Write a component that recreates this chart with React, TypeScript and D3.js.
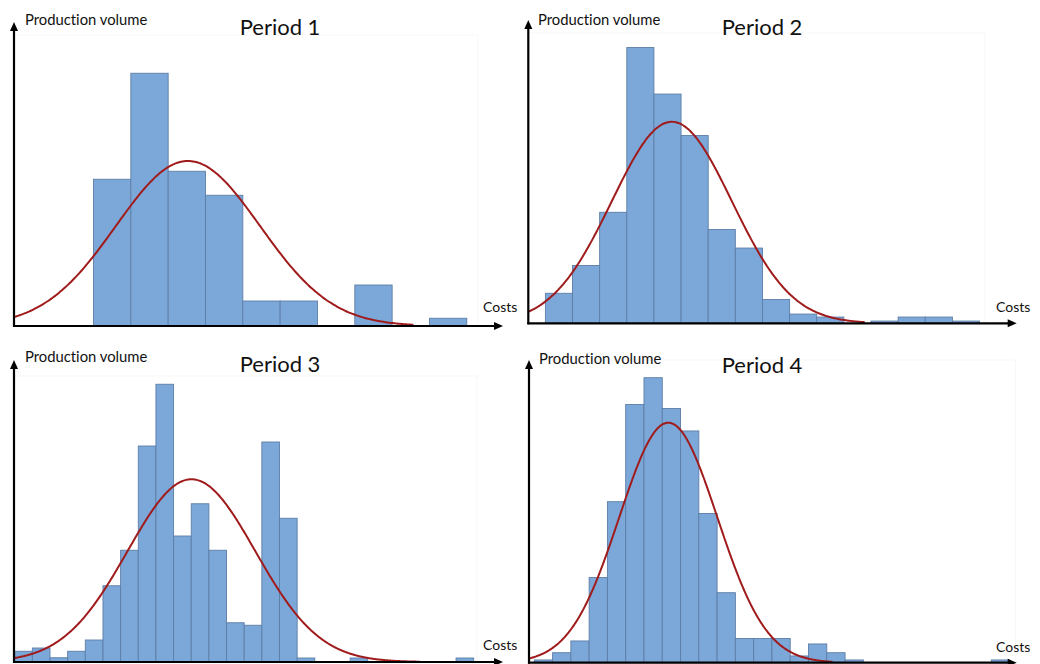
import React from "react";
import * as d3 from "d3";

// ---- data (costs measured in bin widths, volumes in counts) ----
const periodTitles = ["Period 1", "Period 2", "Period 3", "Period 4"];
const yLabel = "Production volume";
const xLabel = "Costs";

const p1Volumes = [58.7, 101.1, 61.9, 52.3, 10, 10, 0, 16.4, 0, 3.1];
const p2Volumes = [12, 23.1, 44.4, 110.3, 91.7, 75.1, 37.5, 30.1, 9.5, 3.7, 2.5, 0, 0.9, 2.5, 2.5, 0.9];
const p3Volumes = [4.3, 5.6, 1.7, 4.3, 8.8, 30.5, 44.7, 86.4, 111.1, 50.4, 63.3, 44.7, 15.7, 14.7, 88, 57.5, 1.6, 0, 0, 1.6, 0, 0, 0, 0, 0, 1.6];
const p4Volumes = [1.1, 4, 8.7, 34.1, 64.4, 103.3, 114, 101.7, 92.7, 59.7, 28, 9.7, 9.7, 9.7, 2.7, 7.5, 4, 1.1, 0, 0, 0, 0, 0, 0, 0, 1.1];

const firstBinStart = [2.13, 0.63, 0.04, 0.29];
const fitMean = [4.66, 5.29, 10.05, 7.62];
const fitSd = [1.93, 2.21, 3.62, 2.68];
const fitPeak = [66, 80.6, 73.1, 96];
const fitEnd = [10.7, 12.4, 23, 16.6];
const costMax = [13.1, 18.0, 27.7, 26.68];

const allVolumes = [p1Volumes, p2Volumes, p3Volumes, p4Volumes];

// ---- layout ----
const layout = [
  { x0: 14, x1: 503, y0: 326, yTop: 22, plotTop: 35, plotRight: 478, labelX: 25, labelY: 25, titleX: 280, titleY: 35, costsX: 483, costsY: 312 },
  { x0: 528.3, x1: 1016.7, y0: 323.3, yTop: 20, plotTop: 33, plotRight: 985, labelX: 538, labelY: 25, titleX: 762, titleY: 35, costsX: 996, costsY: 312 },
  { x0: 14, x1: 503, y0: 662, yTop: 360, plotTop: 376, plotRight: 477, labelX: 25, labelY: 362, titleX: 280, titleY: 372, costsX: 483, costsY: 650 },
  { x0: 529, x1: 1016.7, y0: 662.7, yTop: 360, plotTop: 360, plotRight: 1015.7, labelX: 539, labelY: 364, titleX: 762, titleY: 373, costsX: 996, costsY: 652 },
];

const FONT = "Lato, 'Open Sans', sans-serif";
const textStyle = { fontVariantLigatures: "none" as const, fontFeatureSettings: "'liga' 0" };

function Panel({ i }: { i: number }) {
  const L = layout[i];
  const x = d3.scaleLinear().domain([0, costMax[i]]).range([L.x0, L.x1]);
  const y = d3.scaleLinear().domain([0, 120]).range([L.y0, L.y0 - 300]);
  const vols = allVolumes[i];
  const start = firstBinStart[i];

  const pts = d3.range(0, fitEnd[i] + 0.001, 0.05).map((c) => [
    c,
    fitPeak[i] * Math.exp(-0.5 * Math.pow((c - fitMean[i]) / fitSd[i], 2)),
  ]);
  const line = d3
    .line<number[]>()
    .x((d) => x(d[0]))
    .y((d) => y(d[1]))
    .curve(d3.curveMonotoneX);

  const ah = 9;
  const aw = 4;
  return (
    <g>
      {/* faint plot area border */}
      <line x1={L.x0} x2={L.plotRight} y1={L.plotTop} y2={L.plotTop} stroke="#f7f7f7" strokeWidth={1} />
      <line x1={L.plotRight} x2={L.plotRight} y1={L.plotTop} y2={L.y0} stroke="#f7f7f7" strokeWidth={1} />
      {vols.map((v, k) =>
        v > 0 ? (
          <rect
            key={k}
            x={x(start + k)}
            y={y(v)}
            width={x(start + k + 1) - x(start + k)}
            height={y(0) - y(v)}
            fill="#7ca7d9"
            stroke="#5d7ea6"
            strokeWidth={0.9}
          />
        ) : null
      )}
      <path d={line(pts) || ""} fill="none" stroke="#a01c1c" strokeWidth={2} />
      {/* axes */}
      <line x1={L.x0} x2={L.x0} y1={L.y0 + 1} y2={L.yTop + ah - 1} stroke="#000" strokeWidth={2.2} />
      <polygon points={`${L.x0},${L.yTop} ${L.x0 - aw},${L.yTop + ah} ${L.x0 + aw},${L.yTop + ah}`} fill="#000" />
      <line x1={L.x0 - 1} x2={L.x1 - ah + 1} y1={L.y0} y2={L.y0} stroke="#000" strokeWidth={2.2} />
      <polygon points={`${L.x1},${L.y0} ${L.x1 - ah},${L.y0 - aw} ${L.x1 - ah},${L.y0 + aw}`} fill="#000" />
      {/* texts */}
      <text x={L.labelX} y={L.labelY} fontFamily={FONT} fontSize={14.8} fill="#111" style={textStyle}>
        {yLabel}
      </text>
      <text x={L.titleX} y={L.titleY} fontFamily={FONT} fontSize={22} fill="#111" textAnchor="middle" style={textStyle}>
        {periodTitles[i]}
      </text>
      <text x={L.costsX} y={L.costsY} fontFamily={FONT} fontSize={14} fill="#111" style={textStyle}>
        {xLabel}
      </text>
    </g>
  );
}

export default function App() {
  return (
    <svg
      width={1040}
      height={664}
      style={{ position: "absolute", left: 0, top: 0, display: "block", background: "#fff" }}
    >
      <rect width={1040} height={664} fill="#fff" />
      {[0, 1, 2, 3].map((i) => (
        <Panel key={i} i={i} />
      ))}
    </svg>
  );
}
